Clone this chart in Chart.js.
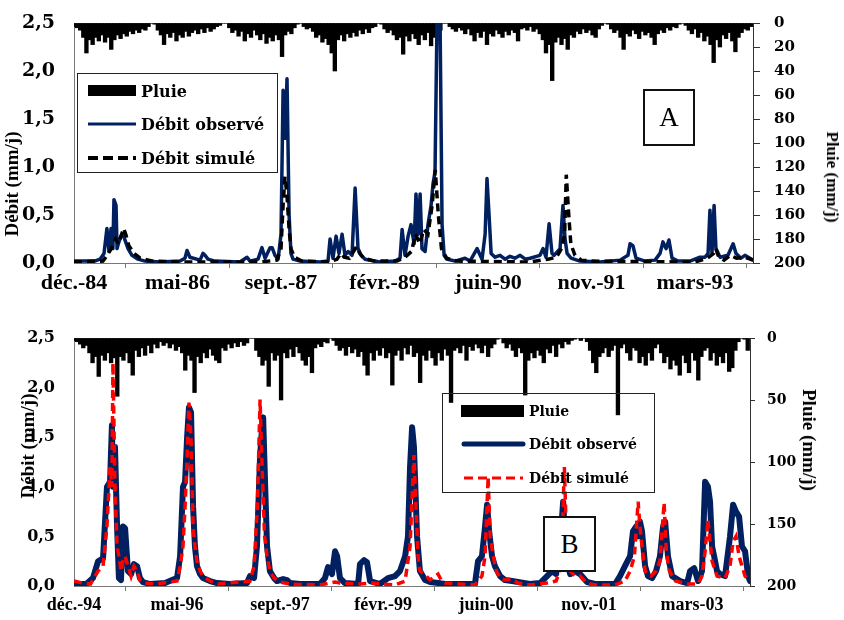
<!DOCTYPE html>
<html>
<head>
<meta charset="utf-8">
<script src="https://cdn.jsdelivr.net/npm/chart.js@4"></script>
<style>
  body { margin: 0; background: #fff; }
  #wrap { position: relative; width: 844px; height: 620px; overflow: hidden; }
  canvas { position: absolute; left: 0; }
  .lbl { position: absolute; white-space: nowrap; font-family: 'Liberation Serif', serif; font-weight: bold; color: #000; }
  .legend { position: absolute; border: 1.5px solid #222; box-sizing: border-box; }
  .legend span { position: absolute; white-space: nowrap; font-family: 'DejaVu Serif', serif; font-weight: bold; transform: translateY(-50%); }
  .tag { position: absolute; border: 2px solid #111; background: #fff; box-sizing: border-box;
         font-family: 'Liberation Serif', serif; font-size: 27px; display: flex; align-items: center; justify-content: center; }
</style>
</head>
<body>
<div id="wrap">
  <canvas id="chartA" width="844" height="300" style="top:0"></canvas>
  <canvas id="chartB" width="844" height="315" style="top:305px"></canvas>

  <!-- titres d'axes -->
  <div class="lbl" style="left:12px;top:184px;font-size:19px;transform:translate(-50%,-50%) rotate(-90deg)">Débit (mm/j)</div>
  <div class="lbl" style="left:832px;top:177px;font-size:17px;transform:translate(-50%,-50%) rotate(90deg)">Pluie (mm/j)</div>
  <div class="lbl" style="left:28px;top:446px;font-size:19px;transform:translate(-50%,-50%) rotate(-90deg)">Débit (mm/j)</div>
  <div class="lbl" style="left:809px;top:440px;font-size:19px;transform:translate(-50%,-50%) rotate(90deg)">Pluie (mm/j)</div>

  <!-- légende A -->
  <div class="legend" style="left:77px;top:73px;width:201px;height:100px;">
    <svg width="201" height="100" style="position:absolute;left:0;top:0">
      <rect x="10" y="11" width="48" height="11" fill="#000"/>
      <line x1="10" y1="50" x2="58" y2="50" stroke="#002060" stroke-width="3"/>
      <line x1="10" y1="84" x2="58" y2="84" stroke="#000" stroke-width="4" stroke-dasharray="10 5"/>
    </svg>
    <span style="left:63px;top:17px;font-size:16px">Pluie</span>
    <span style="left:63px;top:50px;font-size:16px">Débit observé</span>
    <span style="left:63px;top:84px;font-size:16px">Débit simulé</span>
  </div>
  <div class="tag" style="left:643px;top:89px;width:52px;height:57px;background:transparent">A</div>

  <!-- légende B -->
  <div class="legend" style="left:442px;top:393px;width:213px;height:100px;">
    <svg width="213" height="100" style="position:absolute;left:0;top:0">
      <rect x="18" y="11" width="63" height="12" fill="#000"/>
      <line x1="21" y1="50" x2="80" y2="50" stroke="#002060" stroke-width="5" stroke-linecap="round"/>
      <line x1="21" y1="84" x2="80" y2="84" stroke="#ff0000" stroke-width="3" stroke-dasharray="9 5"/>
    </svg>
    <span style="left:86px;top:17px;font-size:14px">Pluie</span>
    <span style="left:86px;top:50px;font-size:14px">Débit observé</span>
    <span style="left:86px;top:84px;font-size:14px">Débit simulé</span>
  </div>
  <div class="tag" style="left:543px;top:516px;width:53px;height:56px">B</div>
</div>

<script>
// axe du temps : jours depuis le début de chaque période
const tickDays = [0, 500, 1000, 1500, 2000, 2500, 3000];
const tickLabelsA = ['déc.-84', 'mai-86', 'sept.-87', 'févr.-89', 'juin-90', 'nov.-91', 'mars-93'];
const tickLabelsB = ['déc.-94', 'mai-96', 'sept.-97', 'févr.-99', 'juin-00', 'nov.-01', 'mars-03'];

// pluie (mm/j), un cumul tous les 15 jours
const RAIN_STEP = 15;
const rainA = [3,4,6,12,25,14,18,12,15,10,16,12,22,14,10,13,9,11,7,9,6,8,5,6,3,0,1,6,10,18,
  9,12,8,15,10,12,7,11,8,6,9,5,8,4,7,5,3,2,0,0,4,8,6,11,7,15,9,12,6,10,
  14,9,17,12,15,10,14,28,10,7,9,4,1,0,3,5,4,7,12,10,16,13,18,25,40,14,10,15,9,12,
  8,11,6,9,5,8,4,3,0,1,5,8,6,10,14,12,26,11,15,9,13,18,10,14,8,19,12,9,6,0,
  0,3,5,7,4,6,9,5,10,15,8,12,7,18,9,11,6,9,12,7,10,6,8,15,5,4,6,3,7,5,
  9,14,25,18,48,16,12,18,13,22,10,12,7,9,5,8,6,10,12,5,2,0,1,5,8,6,12,22,9,11,
  6,9,13,7,10,8,12,18,9,6,8,4,6,3,4,1,0,2,6,9,5,12,8,15,11,18,33,14,20,10,
  13,8,15,24,12,8,5,6,3];
const rainB = [2,3,5,8,6,12,20,15,31,14,18,12,20,16,47,15,18,12,20,30,10,15,8,14,6,12,5,8,3,6,
  4,8,5,10,7,12,26,14,18,44,15,20,12,16,9,14,18,20,8,10,5,8,4,7,3,6,4,0,0,10,
  15,22,18,39,12,18,14,50,12,16,9,15,7,12,18,22,15,28,8,5,7,3,4,0,2,6,10,8,14,7,
  12,9,15,11,22,30,12,18,10,14,8,16,12,38,14,10,18,8,13,6,15,12,36,14,18,10,16,22,12,18,
  9,14,52,10,8,12,6,18,7,10,5,8,12,6,15,8,5,1,0,4,8,5,10,15,8,12,46,18,12,16,
  10,14,20,9,12,6,15,5,8,3,5,2,1,0,2,0,3,10,20,28,15,12,8,15,10,6,62,8,5,12,
  18,8,10,20,15,22,12,18,8,5,12,20,15,25,18,22,30,14,20,28,12,18,34,15,10,8,18,12,22,15,
  20,12,27,24,10,3,0,1,10];

// débits (mm/j) : [jour, valeur]
const obsA = [[0,0.02],[100,0.02],[126,0.04],[145,0.1],[159,0.36],[169,0.12],[179,0.36],[188,0.15],[193,0.66],[203,0.6],
  [208,0.15],[217,0.22],[227,0.28],[237,0.3],[246,0.24],[261,0.15],[280,0.08],[309,0.04],[343,0.02],[415,0.01],
  [512,0.02],[536,0.05],[546,0.13],[560,0.06],[609,0.03],[623,0.1],[633,0.08],[647,0.04],[681,0.02],[802,0.01],
  [836,0.06],[850,0.02],[889,0.04],[908,0.16],[923,0.05],[947,0.16],[957,0.16],[971,0.08],[986,0.04],[1000,0.3],
  [1010,1.8],[1019,1.3],[1029,1.92],[1039,0.5],[1048,0.1],[1058,0.04],[1092,0.02],[1188,0.01],[1227,0.02],[1237,0.25],
  [1251,0.05],[1266,0.28],[1280,0.1],[1295,0.3],[1309,0.08],[1324,0.12],[1343,0.08],[1358,0.78],[1372,0.15],[1387,0.08],
  [1406,0.04],[1478,0.01],[1551,0.02],[1575,0.05],[1585,0.35],[1599,0.08],[1614,0.28],[1628,0.4],[1643,0.2],[1652,0.72],
  [1662,0.3],[1672,0.72],[1681,0.15],[1696,0.12],[1710,0.4],[1725,0.6],[1734,0.82],[1744,0.95],[1754,2.6],[1768,2.6],
  [1778,0.4],[1788,0.08],[1800,0.04],[1841,0.02],[1889,0.05],[1913,0.02],[1947,0.15],[1971,0.04],[1986,0.3],[1995,0.88],
  [2005,0.5],[2015,0.1],[2034,0.06],[2058,0.08],[2082,0.04],[2106,0.07],[2130,0.05],[2155,0.08],[2180,0.04],[2203,0.05],
  [2251,0.08],[2266,0.15],[2280,0.06],[2295,0.41],[2309,0.1],[2319,0.08],[2348,0.15],[2362,0.6],[2372,0.25],[2382,0.1],
  [2401,0.05],[2444,0.02],[2541,0.01],[2638,0.03],[2676,0.08],[2686,0.2],[2700,0.18],[2715,0.05],[2758,0.02],[2807,0.03],
  [2831,0.1],[2845,0.22],[2860,0.15],[2874,0.24],[2889,0.05],[2918,0.02],[2976,0.02],[3024,0.06],[3048,0.06],[3063,0.1],
  [3072,0.55],[3082,0.1],[3092,0.6],[3101,0.15],[3121,0.06],[3159,0.08],[3184,0.2],[3198,0.1],[3222,0.05],[3241,0.08],[3280,0.03]];
const simA = [[0,0.01],[140,0.02],[160,0.08],[180,0.15],[200,0.25],[215,0.2],[230,0.3],[240,0.36],[250,0.3],[265,0.18],
  [290,0.1],[320,0.05],[380,0.02],[500,0.01],[900,0.01],[980,0.03],[1000,0.15],[1010,0.6],[1019,0.9],[1029,0.7],
  [1039,0.35],[1048,0.15],[1065,0.06],[1100,0.02],[1230,0.01],[1270,0.04],[1290,0.1],[1305,0.06],[1330,0.05],[1350,0.12],
  [1365,0.17],[1380,0.1],[1400,0.05],[1450,0.02],[1560,0.02],[1600,0.06],[1630,0.12],[1650,0.3],[1670,0.2],[1690,0.35],
  [1710,0.3],[1730,0.6],[1745,0.97],[1760,0.5],[1775,0.15],[1800,0.05],[1850,0.02],[2200,0.01],[2290,0.04],[2330,0.06],
  [2355,0.15],[2370,0.3],[2378,0.92],[2390,0.5],[2400,0.2],[2420,0.08],[2450,0.03],[2500,0.02],[3000,0.01],[3060,0.05],
  [3090,0.1],[3100,0.15],[3115,0.06],[3140,0.03],[3170,0.08],[3200,0.05],[3240,0.06],[3280,0.03]];

const obsB = [[0,0.02],[60,0.02],[92,0.08],[117,0.25],[141,0.28],[160,1.0],[175,1.05],[184,1.62],[189,1.0],[199,1.4],
  [209,0.6],[218,0.08],[228,0.06],[238,0.6],[248,0.58],[262,0.15],[277,0.12],[291,0.22],[306,0.2],[320,0.08],
  [335,0.04],[369,0.02],[442,0.03],[476,0.06],[500,0.08],[515,0.3],[529,1.0],[539,1.05],[549,1.5],[558,1.8],
  [568,1.75],[578,0.8],[587,0.4],[597,0.2],[612,0.12],[626,0.08],[660,0.05],[694,0.03],[757,0.02],[840,0.03],
  [854,0.1],[874,0.08],[888,0.4],[903,1.3],[913,1.6],[918,1.7],[928,1.0],[937,0.4],[951,0.15],[971,0.08],
  [985,0.05],[1015,0.07],[1034,0.06],[1048,0.03],[1097,0.02],[1194,0.02],[1218,0.08],[1233,0.19],[1252,0.12],[1267,0.35],
  [1277,0.3],[1291,0.08],[1315,0.03],[1379,0.02],[1388,0.22],[1408,0.26],[1422,0.24],[1437,0.05],[1485,0.02],[1524,0.08],
  [1558,0.1],[1582,0.15],[1607,0.3],[1621,0.5],[1631,1.2],[1641,1.6],[1650,1.4],[1665,0.5],[1679,0.15],[1704,0.06],
  [1728,0.04],[1767,0.03],[1801,0.02],[1946,0.02],[1961,0.25],[1980,0.3],[1995,0.6],[2005,0.82],[2015,0.55],[2029,0.3],
  [2043,0.2],[2068,0.1],[2092,0.06],[2126,0.05],[2155,0.04],[2213,0.02],[2262,0.03],[2296,0.1],[2320,0.15],[2340,0.12],
  [2359,0.4],[2374,0.85],[2383,0.5],[2393,0.25],[2408,0.12],[2432,0.15],[2456,0.12],[2490,0.04],[2529,0.02],[2626,0.02],
  [2650,0.1],[2674,0.2],[2699,0.3],[2713,0.55],[2728,0.6],[2738,0.5],[2747,0.65],[2757,0.55],[2772,0.2],[2786,0.1],
  [2806,0.08],[2825,0.15],[2844,0.3],[2859,0.6],[2869,0.65],[2883,0.3],[2903,0.1],[2942,0.05],[2976,0.03],[2990,0.15],
  [3010,0.18],[3029,0.05],[3048,0.15],[3063,1.05],[3077,1.0],[3087,0.85],[3097,0.4],[3107,0.3],[3121,0.15],[3136,0.12],
  [3160,0.1],[3184,0.5],[3199,0.82],[3213,0.75],[3228,0.7],[3242,0.4],[3257,0.35],[3272,0.1],[3281,0.05]];
const simB = [[0,0.05],[40,0.03],[80,0.02],[117,0.15],[141,0.2],[160,0.6],[175,1.2],[184,1.0],[189,2.25],[199,1.0],
  [209,0.4],[218,0.3],[228,0.15],[238,0.25],[248,0.3],[262,0.2],[277,0.1],[291,0.2],[306,0.15],[320,0.06],
  [340,0.03],[400,0.02],[500,0.05],[515,0.2],[529,0.4],[539,0.8],[549,1.3],[558,1.85],[568,1.5],[578,0.6],
  [587,0.4],[597,0.25],[612,0.15],[626,0.1],[660,0.05],[700,0.02],[854,0.05],[874,0.2],[890,0.8],[903,1.88],
  [913,1.2],[925,0.5],[937,0.3],[951,0.15],[971,0.08],[1000,0.04],[1048,0.02],[1194,0.01],[1267,0.04],[1291,0.03],
  [1388,0.02],[1437,0.03],[1558,0.01],[1607,0.05],[1631,0.4],[1641,0.9],[1650,1.32],[1660,0.8],[1670,0.3],[1679,0.15],
  [1700,0.12],[1728,0.06],[1767,0.12],[1785,0.05],[1801,0.03],[1946,0.01],[1980,0.1],[1995,0.3],[2010,1.1],[2020,0.5],
  [2035,0.3],[2050,0.15],[2068,0.08],[2090,0.06],[2126,0.07],[2155,0.03],[2213,0.01],[2296,0.03],[2340,0.05],[2365,0.2],
  [2380,1.2],[2393,0.3],[2408,0.15],[2432,0.1],[2456,0.1],[2490,0.03],[2529,0.01],[2626,0.01],[2674,0.05],[2699,0.15],
  [2720,0.3],[2738,0.85],[2747,0.6],[2757,0.4],[2772,0.15],[2800,0.1],[2825,0.15],[2844,0.25],[2864,0.84],[2875,0.35],
  [2890,0.15],[2920,0.05],[2976,0.02],[3029,0.02],[3048,0.1],[3063,0.35],[3077,0.67],[3087,0.45],[3097,0.25],[3121,0.1],
  [3160,0.08],[3184,0.2],[3199,0.45],[3213,0.5],[3228,0.3],[3242,0.2],[3257,0.1],[3281,0.05]];

const NAVY = '#002060';

// ligne grise en haut de la zone de tracé
const topLine = {
    id: 'topLine',
    beforeDatasetsDraw(chart) {
        const { ctx, chartArea: a } = chart;
        ctx.save();
        ctx.strokeStyle = '#999';
        ctx.lineWidth = 1;
        ctx.beginPath();
        ctx.moveTo(a.left, a.top + 0.5);
        ctx.lineTo(a.right, a.top + 0.5);
        ctx.stroke();
        ctx.restore();
    }
};

const toXY = arr => arr.map(p => ({ x: p[0], y: p[1] }));

function buildChart(id, o) {
    return new Chart(document.getElementById(id), {
        type: 'line',
        data: {
            datasets: [
                {
                    type: 'bar', label: 'Pluie', yAxisID: 'yR', order: 3,
                    data: o.rain.map((v, i) => ({ x: i * RAIN_STEP, y: v })),
                    backgroundColor: '#000', borderWidth: 0, barThickness: 3.7
                },
                {
                    label: 'Débit observé', yAxisID: 'y', order: 2,
                    data: toXY(o.obs),
                    borderColor: NAVY, borderWidth: o.obsWidth, pointRadius: 0, tension: 0,
                    borderJoinStyle: 'round', borderCapStyle: 'round'
                },
                {
                    label: 'Débit simulé', yAxisID: 'y', order: 1,
                    data: toXY(o.sim),
                    borderColor: o.simColor, borderWidth: 3.5, borderDash: [8, 5], pointRadius: 0, tension: 0
                }
            ]
        },
        options: {
            responsive: false,
            animation: false,
            layout: { padding: { top: o.padTop, left: 0, right: 0, bottom: 0 } },
            plugins: { legend: { display: false }, tooltip: { enabled: false } },
            scales: {
                x: {
                    type: 'linear', min: 0, max: o.xMax, offset: false,
                    afterBuildTicks: s => { s.ticks = tickDays.map(v => ({ value: v })); },
                    afterFit: s => { s.height = o.xHeight; },
                    grid: { display: true, drawOnChartArea: false, tickLength: 5, color: '#777' },
                    border: { color: '#777' },
                    ticks: {
                        autoSkip: false, maxRotation: 0, padding: o.xPad, color: '#000',
                        font: { family: 'Liberation Serif', weight: 'bold', size: o.xFont },
                        callback: (v, i) => o.labels[i]
                    }
                },
                y: {
                    position: 'left', min: 0, max: 2.5,
                    afterFit: s => { s.width = 74; },
                    grid: { display: false },
                    border: { color: '#777' },
                    ticks: {
                        stepSize: 0.5, padding: 11, color: '#000',
                        font: { family: 'DejaVu Serif', weight: 'bold', size: o.yFont },
                        callback: v => v.toFixed(1).replace('.', ',')
                    }
                },
                yR: {
                    position: 'right', reverse: true, min: 0, max: 200,
                    afterFit: s => { s.width = o.rWidth; },
                    grid: { drawOnChartArea: false, tickLength: o.rTick, color: '#333' },
                    border: { color: '#333' },
                    ticks: {
                        stepSize: o.rStep, padding: o.rPad, color: '#000',
                        font: { family: 'DejaVu Serif', weight: 'bold', size: o.rFont }
                    }
                }
            }
        },
        plugins: [topLine]
    });
}

buildChart('chartA', {
    rain: rainA, obs: obsA, sim: simA, labels: tickLabelsA,
    obsWidth: 3.5, simColor: '#000',
    padTop: 10, xMax: 3280, xHeight: 37, xPad: 2, xFont: 22,
    yFont: 19, rWidth: 91, rTick: 7, rPad: 14, rStep: 20, rFont: 15
});

buildChart('chartB', {
    rain: rainB, obs: obsB, sim: simB, labels: tickLabelsB,
    obsWidth: 6, simColor: '#ff0000',
    padTop: 33, xMax: 3281, xHeight: 34, xPad: 4, xFont: 18,
    yFont: 16, rWidth: 94, rTick: 5, rPad: 12, rStep: 50, rFont: 14
});
</script>
</body>
</html>
